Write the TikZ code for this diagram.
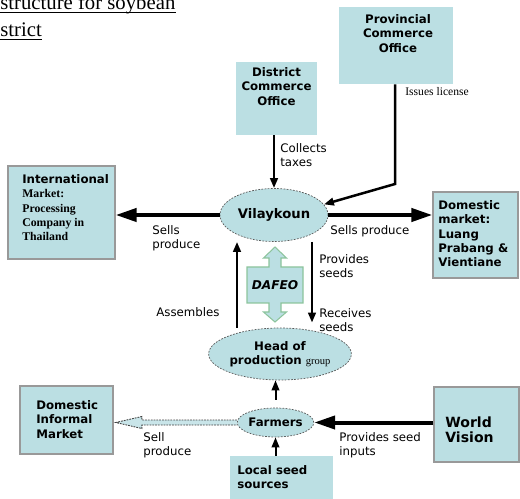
\documentclass[tikz,border=0pt]{standalone}
\usepackage{fontspec}
\setmainfont{Liberation Serif}
\setsansfont{DejaVu Sans}
\usepackage{tikz}
\usetikzlibrary{arrows.meta,positioning,shapes.geometric,calc}
\definecolor{boxblue}{RGB}{187,223,227}
\definecolor{dafeogreen}{RGB}{140,196,156}

\begin{document}
\begin{tikzpicture}[x=0.02cm, y=-0.02cm,
    panel/.style={rectangle, fill=boxblue, inner sep=0pt},
    framed/.style={panel, draw=gray!80, line width=0.7pt},
    oval/.style={ellipse, fill=boxblue, draw=gray!70!black, dash pattern=on 1pt off 0.8pt, line width=0.4pt, inner sep=0pt, align=center, font=\sffamily\bfseries\fontsize{6.7}{8.2}\selectfont},
    boxtxt/.style={inner sep=0pt, font=\sffamily\bfseries\fontsize{6.7}{8.2}\selectfont},
    lbl/.style={inner sep=0pt, align=left, anchor=north west, font=\sffamily\fontsize{6.7}{8.2}\selectfont},
    bigarrow/.style={-{Triangle[length=0.42cm,width=0.26cm]}, line width=0.08cm},
    thinarrow/.style={-{Triangle[length=0.2cm,width=0.15cm]}, line width=0.05cm},
    hollow/.style={draw=black!75, fill=boxblue!80, dash pattern=on 1pt off 0.6pt, line width=0.5pt},
    dafeoshape/.style={draw=dafeogreen, fill=boxblue, line width=0.6pt}
]
\useasboundingbox (0,0) rectangle (520,499);
\clip (0,0) rectangle (520,499);

% title
\node[anchor=base west, inner sep=0pt, font=\rmfamily\fontsize{11.8}{15}\selectfont] (ttl1) at (0,9.5) {structure for soybean};
\node[anchor=base west, inner sep=0pt, font=\rmfamily\fontsize{11.8}{15}\selectfont] (ttl2) at (0,36.5) {strict};
\draw[line width=0.6pt] ([yshift=-1.5pt]ttl1.base west) -- ([yshift=-1.5pt]ttl1.base east);
\draw[line width=0.6pt] ([yshift=-1.5pt]ttl2.base west) -- ([yshift=-1.5pt]ttl2.base east);

% boxes
\node[panel, minimum width=1.62cm, minimum height=1.46cm] (dco) at (276.5,98.5) {};
\node[panel, minimum width=2.28cm, minimum height=1.54cm] (pco) at (396,45.5) {};
\node[framed, minimum width=2.14cm, minimum height=1.86cm] (intl) at (61.5,212.5) {};
\node[framed, minimum width=1.7cm, minimum height=1.72cm] (dom) at (475.5,235) {};
\node[framed, minimum width=1.7cm, minimum height=1.5cm] (wv) at (476.5,424.5) {};
\node[framed, minimum width=1.86cm, minimum height=1.36cm] (dinf) at (66.5,420) {};
\node[panel, minimum width=2.06cm, minimum height=1.0cm] (seed) at (281.5,481) {};

\node[boxtxt, align=center, anchor=north] (dcot) at (276.5,67) {District\\Commerce\\Office};
\node[boxtxt, align=center, anchor=north] (pcot) at (398,14) {Provincial\\Commerce\\Office};
\node[boxtxt, align=left, anchor=north west] (intlt) at (22,174) {International\\\textrm{Market:}\\\textrm{Processing}\\\textrm{Company in}\\\textrm{Thailand}};
\node[boxtxt, align=left, anchor=north west] (domt) at (438,200) {Domestic\\market:\\Luang\\Prabang \&\\Vientiane};
\node[boxtxt, align=left, anchor=north west, font=\sffamily\bfseries\fontsize{8}{9}\selectfont] (wvt) at (445,416) {World\\Vision};
\node[boxtxt, align=left, anchor=north west] (dinft) at (36,400) {Domestic\\Informal\\Market};
\node[boxtxt, align=left, anchor=north west] (seedt) at (237,465) {Local seed\\sources};

% ovals
\node[oval, minimum width=2.16cm, minimum height=1.06cm, font=\sffamily\bfseries\fontsize{7.5}{9}\selectfont] (vil) at (274,215) {Vilaykoun};
\node[oval, minimum width=2.28cm, minimum height=1.04cm] (head) at (280,354) {Head of\\production {\rmfamily\mdseries\fontsize{6}{7}\selectfont group}};
\node[oval, minimum width=1.5cm, minimum height=0.58cm] (farm) at (275.5,422.5) {Farmers};

% DAFEO
\draw[dafeoshape, shift={(275,285)}] (0,-38) -- (11.5,-27) -- (6,-27) -- (6,-18) -- (28,-18) -- (28,18) -- (6,18) -- (6,27) -- (11.5,27) -- (0,37) -- (-11.5,27) -- (-6,27) -- (-6,18) -- (-28,18) -- (-28,-18) -- (-6,-18) -- (-6,-27) -- (-11.5,-27) -- cycle;
\node[inner sep=0pt, font=\sffamily\bfseries\itshape\fontsize{6.9}{8}\selectfont] (dafeo) at (275,285) {DAFEO};

% connectors
\coordinate (bend) at (395,184);
\coordinate (upx) at (237,0);
\coordinate (dnx) at (312,0);
\draw[thinarrow] (dco.south -| vil.north) -- (vil.north);
\draw[thinarrow] (pco.south -| bend) -- (bend) -- (vil.12);
\draw[bigarrow] (vil.west) -- (vil.west -| intl.east);
\draw[bigarrow] (vil.east) -- (vil.east -| dom.west);
\draw[thinarrow] (head.north -| upx) -- (vil.south -| upx);
\draw[thinarrow, shorten >=0.1cm] (vil.south -| dnx) -- (head.north -| dnx);
\draw[thinarrow, line width=0.04cm, shorten <=0.16cm] (farm.north) -- (farm.north |- head.south);
\draw[thinarrow, line width=0.04cm] (seed.north -| farm.south) -- (farm.south);
\draw[bigarrow] (farm.east -| wv.west) -- (farm.east);
\draw[hollow] (farm.west) ++(0,-2.5) -- ++(-95,0) -- ++(0,-3.5) -- ++(-26,6) -- ++(26,6) -- ++(0,-3.5) -- ++(95,0);

% labels
\node[lbl] (taxes) at (280,143) {Collects\\taxes};
\node[inner sep=0pt, anchor=west, font=\rmfamily\fontsize{6.6}{8}\selectfont] (lic) at (405,92) {Issues license};
\node[lbl] (sellint) at (152,225) {Sells\\produce};
\node[lbl] (selldom) at (330,225) {Sells produce};
\node[lbl] (prov) at (319,254) {Provides\\seeds};
\node[lbl] (recv) at (319,308) {Receives\\seeds};
\node[lbl, anchor=west] (asm) at (156,312) {Assembles};
\node[lbl] (sellinf) at (143,432) {Sell\\produce};
\node[lbl] (inputs) at (339,432) {Provides seed\\inputs};
\end{tikzpicture}
\end{document}
